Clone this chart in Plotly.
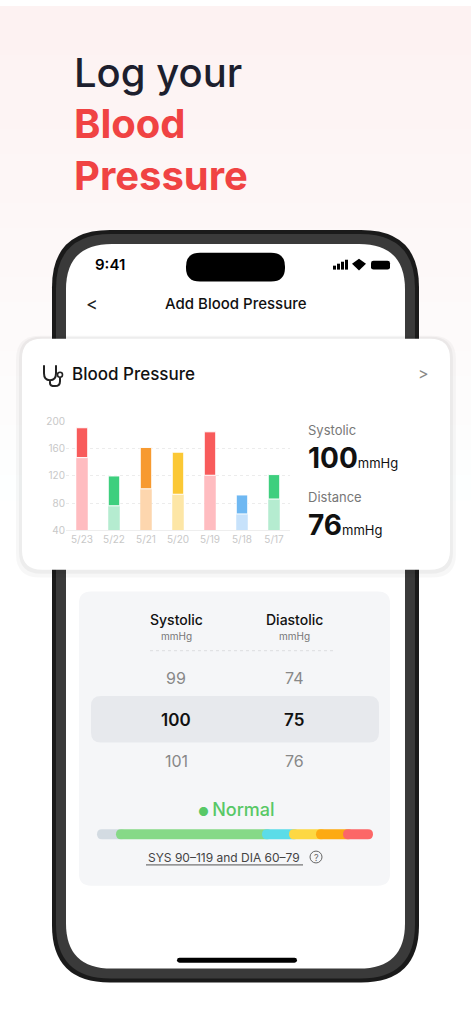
import plotly.graph_objects as go

# chart data
dates = ["5/23", "5/22", "5/21", "5/20", "5/19", "5/18", "5/17"]
diastolic = [147, 76, 101, 93, 121, 64, 86]
systolic = [191, 120, 162, 155, 185, 92, 122]
dark_colors = ["#f85b5b", "#3ecf7e", "#f79a30", "#fbc835", "#f85b5b", "#6fb8f2", "#3ecf7e"]
light_colors = ["#ffbcc0", "#b5ecd0", "#fdd6ae", "#fde6a6", "#ffbcc0", "#c7e2fb", "#b5ecd0"]
y_ticks = [40, 80, 120, 160, 200]

# range bar segments
seg_widths = [24, 146, 27, 27, 27, 25]
seg_colors = ["#d3dbe2", "#86d987", "#5bdce8", "#fdd843", "#fdaa12", "#fc6767"]

W, H = 471, 1019
FONT = "Inter"


def X(x):
    return x / W


def Y(y):
    return 1 - y / H


def rrect(x0, y0, x1, y1, r):
    pts = [("M", x0 + r, y0), ("L", x1 - r, y0), ("Q", x1, y0, x1, y0 + r), ("L", x1, y1 - r),
           ("Q", x1, y1, x1 - r, y1), ("L", x0 + r, y1), ("Q", x0, y1, x0, y1 - r),
           ("L", x0, y0 + r), ("Q", x0, y0, x0 + r, y0)]
    out = ""
    for p in pts:
        if p[0] == "Q":
            out += f"Q{X(p[1]):.5f},{Y(p[2]):.5f} {X(p[3]):.5f},{Y(p[4]):.5f} "
        else:
            out += f"{p[0]}{X(p[1]):.5f},{Y(p[2]):.5f} "
    return out + "Z"


def poly(points):
    return "M" + " L".join(f"{X(a):.5f},{Y(b):.5f}" for a, b in points) + " Z"


fig = go.Figure()
fig.add_bar(x=dates, y=[d - 40 for d in diastolic], base=40,
            marker=dict(color=light_colors, line_width=0), width=0.36)
fig.add_bar(x=dates, y=[s - d for s, d in zip(systolic, diastolic)], base=diastolic,
            marker=dict(color=dark_colors, line=dict(color="white", width=1)), width=0.36)

shapes = []


def px_shape(path, fill, line=None):
    shapes.append(dict(type="path", path=path, xref="paper", yref="paper", fillcolor=fill,
                       line=line or dict(width=0), layer="below"))


# background bands (pink fade)
for i in range(20):
    y0 = i * 25
    c = 242 + int(13 * i / 19)
    px_shape(poly([(-2, y0 - 1), (W + 2, y0 - 1), (W + 2, y0 + 26), (-2, y0 + 26)]), f"rgb(253,{c},{c})")
px_shape(poly([(0, 500), (W, 500), (W, H), (0, H)]), "white")

# phone
px_shape(rrect(52, 226, 419, 988, 58), "#1a1a1a")
px_shape(rrect(56, 230, 415, 984, 55), "#3a3a3a")
px_shape(rrect(66, 240, 405, 974, 46), "white")
px_shape(rrect(186, 249, 285, 278, 14), "black")
px_shape(rrect(177, 963, 297, 968, 2.5), "black")
# status icons
for i, h in enumerate([4, 6, 8, 10]):
    px_shape(poly([(333 + i * 4, 266 - h), (336 + i * 4, 266 - h), (336 + i * 4, 266), (333 + i * 4, 266)]), "black")
px_shape(rrect(371, 257, 390, 266, 2.5), "black")
px_shape(poly([(352, 260), (359, 255), (366, 260), (359, 267)]), "black")

# card with soft shadow
px_shape(rrect(16, 333, 456, 578, 24), "rgba(0,0,0,0.03)")
px_shape(rrect(19, 334, 453, 574, 22), "rgba(0,0,0,0.04)")
px_shape(rrect(22, 336, 450, 570, 20), "white")

# picker panel
px_shape(rrect(79, 592, 390, 890, 12), "#f5f6f8")
px_shape(rrect(91, 698, 379, 745, 10), "#e7e9ed")
shapes.append(dict(type="line", x0=X(150), x1=X(335), y0=Y(652), y1=Y(652), xref="paper", yref="paper",
                   line=dict(color="#dcdde0", width=1, dash="dot"), layer="below"))

# range bar
x = 97
for i, (w, c) in enumerate(zip(seg_widths, seg_colors)):
    px_shape(rrect(x - (5 if i else 0), 833, x + w + (0 if i == 5 else 5), 843, 5), c)
    x += w
shapes.append(dict(type="line", x0=X(146), x1=X(303), y0=Y(869), y1=Y(869), xref="paper", yref="paper",
                   line=dict(color="#555", width=1)))
shapes.append(dict(type="circle", x0=X(310), x1=X(322), y0=Y(855), y1=Y(867), xref="paper", yref="paper",
                   line=dict(color="#666", width=1)))
# stethoscope icon
shapes.append(dict(type="path", xref="paper", yref="paper", line=dict(color="#222", width=2),
                   path=f"M{X(44)},{Y(363)} L{X(44)},{Y(371)} Q{X(44)},{Y(378)} {X(50)},{Y(378)} "
                        f"Q{X(56)},{Y(378)} {X(56)},{Y(371)} L{X(56)},{Y(363)} M{X(50)},{Y(378)} "
                        f"L{X(50)},{Y(381)} Q{X(50)},{Y(384)} {X(55)},{Y(384)} Q{X(60)},{Y(384)} {X(60)},{Y(379)} "
                        f"L{X(60)},{Y(375)}"))
shapes.append(dict(type="circle", x0=X(57.5), x1=X(62.5), y0=Y(370), y1=Y(375), xref="paper", yref="paper",
                   line=dict(color="#222", width=1.6)))

ann = []


def t(x, y, text, size, color="#1d1f2e", weight=400, anchor="left"):
    ann.append(dict(x=X(x), y=Y(y), xref="paper", yref="paper", text=text, showarrow=False,
                    xanchor=anchor, yanchor="middle",
                    font=dict(size=size, color=color, family=FONT, weight=weight)))


t(72, 66, "Log your", 40, weight=500)
t(72, 118, "Blood", 40, color="#f04343", weight=700)
t(72, 171, "Pressure", 40, color="#f04343", weight=700)
t(110, 261, "9:41", 15, color="black", weight=600, anchor="center")
t(92, 300, "<", 18, color="#222", anchor="center")
t(236, 300, "Add Blood Pressure", 15, color="#111", weight=500, anchor="center")
t(70, 372, "Blood Pressure", 17, color="#111", weight=500)
t(423, 371, ">", 16, color="#888", anchor="center")
t(306, 428, "Systolic", 13, color="#777")
t(306, 457, "<b>100</b><span style='font-size:13px'>mmHg</span>", 28, color="#111")
t(306, 496, "Distance", 13, color="#777")
t(306, 525, "<b>76</b><span style='font-size:13px'>mmHg</span>", 28, color="#111")
t(176, 620, "Systolic", 14, color="#111", weight=500, anchor="center")
t(176, 637, "mmHg", 10, color="#777", anchor="center")
t(294, 620, "Diastolic", 14, color="#111", weight=500, anchor="center")
t(294, 637, "mmHg", 10, color="#777", anchor="center")
t(176, 680, "99", 16, color="#888", anchor="center")
t(294, 680, "74", 16, color="#888", anchor="center")
t(176, 722, "100", 17, color="#111", weight=600, anchor="center")
t(294, 722, "75", 17, color="#111", weight=600, anchor="center")
t(176, 764, "101", 16, color="#888", anchor="center")
t(294, 764, "76", 16, color="#888", anchor="center")
t(236, 813, "<span style='font-size:12px'>● </span>Normal", 18, color="#58c866", weight=500, anchor="center")
t(224, 861, "SYS 90–119 and DIA 60–79", 12, color="#444", anchor="center")
t(316, 861, "?", 9, color="#666", anchor="center")

fig.update_layout(
    width=W, height=H, margin=dict(l=0, r=0, t=0, b=0),
    paper_bgcolor="white", plot_bgcolor="rgba(0,0,0,0)",
    showlegend=False, barmode="overlay",
    shapes=shapes, annotations=ann,
    xaxis=dict(domain=[66 / W, 290 / W], showgrid=False, zeroline=False,
               showline=True, linecolor="#eeeeee",
               tickfont=dict(size=10, color="#c8c8c8", family=FONT), fixedrange=True),
    yaxis=dict(domain=[1 - 530 / H, 1 - 420 / H], range=[40, 200], tickvals=y_ticks,
               showgrid=True, gridcolor="#ececec", griddash="dot", zeroline=False,
               tickfont=dict(size=10, color="#c8c8c8", family=FONT), ticks="", fixedrange=True),
)
fig.write_html("out.html", config={"displayModeBar": False},
               post_script="document.body.style.margin='0';")
